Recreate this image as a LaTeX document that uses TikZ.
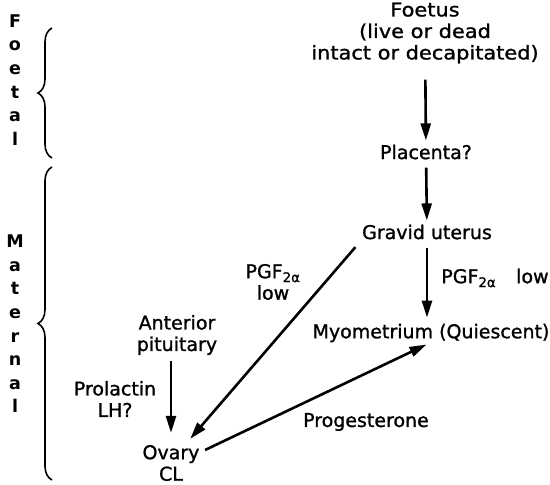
\documentclass[tikz,border=0pt]{standalone}
\usepackage{fontspec}
\setmainfont{DejaVu Sans}
\newfontfamily\heavy{DejaVu Sans}[FakeBold=1.2]
\newfontfamily\heavywide{DejaVu Sans}[FakeBold=1.2,FakeStretch=1.1]
\usetikzlibrary{arrows.meta,decorations.pathreplacing}
\begin{document}
\begin{tikzpicture}[x=1pt,y=-1pt,
  lbl/.style={font=\fontsize{19}{21.5}\heavy, align=center, inner sep=0pt},
  arr/.style={line width=2.6pt, -{Triangle[length=17pt,width=10pt]}},
  brc/.style={line width=1.6pt, decorate, decoration={brace, amplitude=14pt}},
  side/.style={font=\fontsize{17.5}{23.6}\selectfont\bfseries, align=center, inner sep=0pt}]
\useasboundingbox (0,0) rectangle (550,485);
% side labels
\node[side] (foetal) at (15,80) {F\\o\\e\\t\\a\\l};
\node[side] (maternal) at (15,324) {M\\a\\t\\e\\r\\n\\a\\l};
\draw[brc] (52,158) -- (52,28);
\draw[brc] (52,480) -- (52,167);
% nodes
\node[lbl, font=\fontsize{19}{21.5}\heavywide] (foetus) at (425,33) {Foetus\\(live or dead\\intact or decapitated)};
\node[lbl] (placenta) at (426,152) {Placenta?};
\node[lbl] (uterus) at (427,232) {Gravid uterus};
\node[lbl] (myo) at (431,333) {Myometrium (Quiescent)};
\node[lbl] (ant) at (177,335) {Anterior\\pituitary};
\node[lbl] (ovary) at (171,463) {Ovary\\CL};
\node[lbl] (pgfa) at (273,282) {PGF\textsubscript{2α}\\low};
\node[lbl] (pgfb) at (495,278) {PGF\textsubscript{2α}\hspace{20pt}low};
\node[lbl] (prol) at (115,399) {Prolactin\\LH?};
\node[lbl] (prog) at (366,422) {Progesterone};
% connectors
\draw[arr, shorten <=16pt, shorten >=4pt] (foetus) -- (placenta);
\draw[arr, shorten <=8pt, shorten >=4pt] (placenta) -- (uterus);
\draw[arr, shorten <=8pt, shorten >=6pt] (uterus.south) -- (uterus.south |- myo.north);
\draw[arr, shorten <=10pt, shorten >=8pt] (uterus.south west) -- ([xshift=14pt]ovary.north);
\draw[arr, shorten <=6pt, shorten >=12pt] (ant.south -| ovary.north) -- (ovary.north);
\draw[arr, shorten <=6pt, shorten >=5pt] (ovary.20) -- (myo.south);
\end{tikzpicture}
\end{document}
